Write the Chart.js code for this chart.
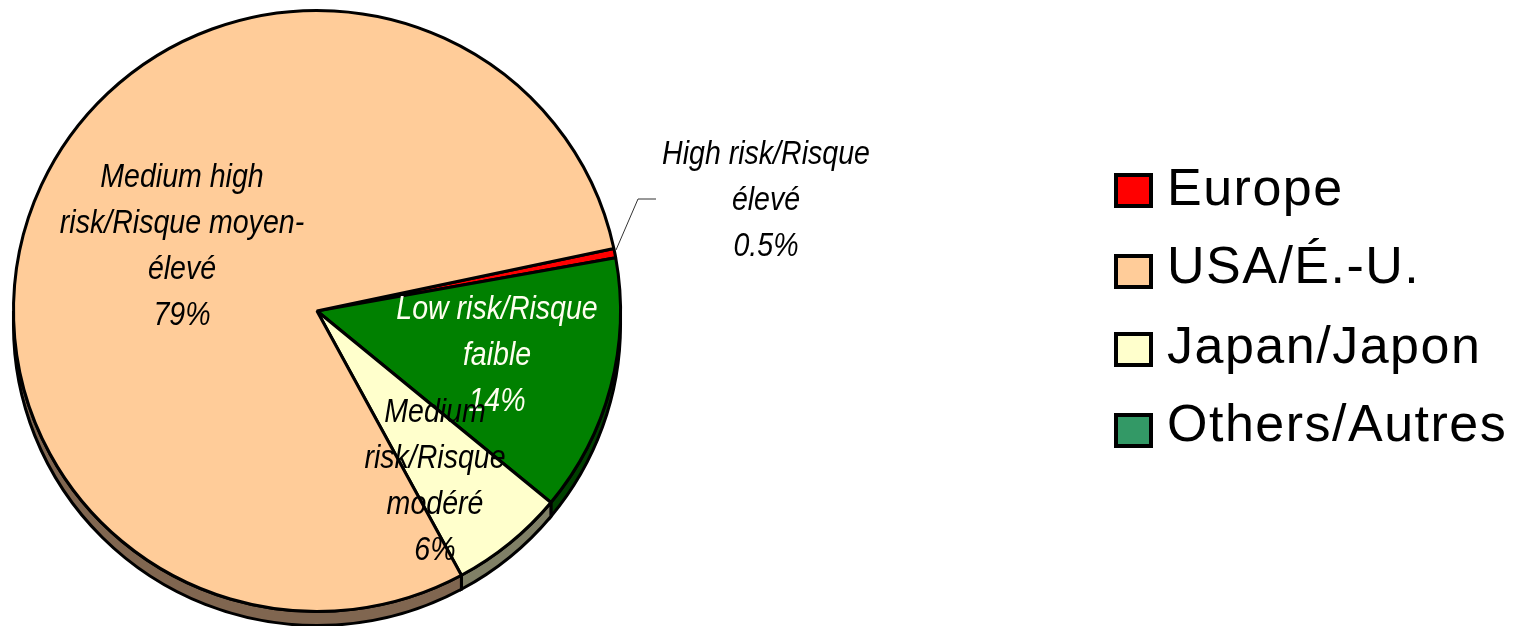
<!DOCTYPE html>
<html>
<head>
<meta charset="utf-8">
<title>Risk breakdown</title>
<script src="https://cdn.jsdelivr.net/npm/chart.js@4/dist/chart.umd.min.js"></script>
<style>
    html, body { margin: 0; padding: 0; background: #fff; overflow: hidden; }
    canvas { display: block; }
</style>
</head>
<body>
<canvas id="riskChart" width="1515" height="626"></canvas>
<script>
// Slices, clockwise from the small red one
const sliceNames = ['High risk/Risque élevé', 'Low risk/Risque faible', 'Medium risk/Risque modéré', 'Medium high risk/Risque moyen-élevé'];
const sliceValues = [0.5, 13.8, 6.1, 79.4];
const sliceColors = ['#ff0000', '#008000', '#ffffcc', '#ffcc99'];
const sideColors = ['#800000', '#004000', '#808066', '#806650'];

// Text of the slice labels, line by line
const highRiskLines = ['High risk/Risque', 'élevé', '0.5%'];
const lowRiskLines = ['Low risk/Risque', 'faible', '14%'];
const mediumRiskLines = ['Medium', 'risk/Risque', 'modéré', '6%'];
const mediumHighLines = ['Medium high', 'risk/Risque moyen-', 'élevé', '79%'];

// The legend does not follow the slices in the source picture
const legendLabels = ['Europe', 'USA/É.-U.', 'Japan/Japon', 'Others/Autres'];
const legendColors = ['#ff0000', '#ffcc99', '#ffffcc', '#339966'];

const PIE_DEPTH = 14;
const PIE_STRETCH = 1.01; // the pie is a little wider than tall
const LABEL_SQUEEZE = 0.865; // labels are set in a condensed italic

// Draw the 3D wall under the lower half of the pie, and stretch the pie
const pieSide = {
    id: 'pieSide',
    beforeDatasetsDraw(chart) {
        const ctx = chart.ctx;
        const first = chart.getDatasetMeta(0).data[0];
        ctx.save();
        ctx.translate(first.x, 0);
        ctx.scale(PIE_STRETCH, 1);
        ctx.translate(-first.x, 0);
        chart.getDatasetMeta(0).data.forEach((arc, i) => {
            const start = Math.max(arc.startAngle, 0);
            const end = Math.min(arc.endAngle, Math.PI);
            if (end <= start) return;
            ctx.beginPath();
            ctx.arc(arc.x, arc.y, arc.outerRadius, start, end);
            ctx.arc(arc.x, arc.y + PIE_DEPTH, arc.outerRadius, end, start, true);
            ctx.closePath();
            ctx.fillStyle = sideColors[i];
            ctx.fill();
            ctx.lineWidth = 3;
            ctx.strokeStyle = '#000';
            ctx.stroke();
        });
    },
    afterDatasetsDraw(chart) {
        chart.ctx.restore();
    }
};

function drawLines(ctx, lines, x, y, color) {
    ctx.fillStyle = color;
    lines.forEach((line, i) => {
        ctx.save();
        ctx.translate(x, y + i * 46);
        ctx.scale(LABEL_SQUEEZE, 1);
        ctx.fillText(line, 0, 0);
        ctx.restore();
    });
}

// Slice labels, leader line and legend
const pieText = {
    id: 'pieText',
    afterDraw(chart) {
        const ctx = chart.ctx;
        ctx.save();

        // Leader line of the small slice
        ctx.beginPath();
        ctx.moveTo(616, 250);
        ctx.lineTo(638, 199);
        ctx.lineTo(656, 199);
        ctx.lineWidth = 1;
        ctx.strokeStyle = '#333';
        ctx.stroke();

        ctx.font = 'italic 33px "Liberation Sans"';
        ctx.textAlign = 'center';
        ctx.textBaseline = 'middle';
        drawLines(ctx, highRiskLines, 766, 155, '#000');
        drawLines(ctx, mediumHighLines, 182, 178, '#000');
        drawLines(ctx, lowRiskLines, 497, 310, '#fffff0');
        drawLines(ctx, mediumRiskLines, 435, 413, '#000');

        // Legend
        const swatchY = [173, 254, 332, 413];
        const textY = [191, 269, 349, 427];
        ctx.font = '52px "Liberation Sans"';
        ctx.textAlign = 'left';
        ctx.letterSpacing = '1.5px';
        legendLabels.forEach((label, i) => {
            ctx.fillStyle = legendColors[i];
            ctx.fillRect(1116, swatchY[i] + 2, 35, 31);
            ctx.lineWidth = 4;
            ctx.strokeStyle = '#000';
            ctx.strokeRect(1116, swatchY[i] + 2, 35, 31);
            ctx.fillStyle = '#000';
            ctx.fillText(label, 1167, textY[i]);
        });
        ctx.restore();
    }
};

new Chart(document.getElementById('riskChart'), {
    type: 'pie',
    data: {
        labels: sliceNames,
        datasets: [{
            data: sliceValues,
            backgroundColor: sliceColors,
            borderColor: '#000',
            borderWidth: 3
        }]
    },
    options: {
        responsive: false,
        animation: false,
        rotation: 78,
        layout: { padding: { left: 15, right: 896, top: 9, bottom: 13 } },
        plugins: {
            legend: { display: false },
            tooltip: { enabled: false }
        }
    },
    plugins: [pieSide, pieText]
});
</script>
</body>
</html>
